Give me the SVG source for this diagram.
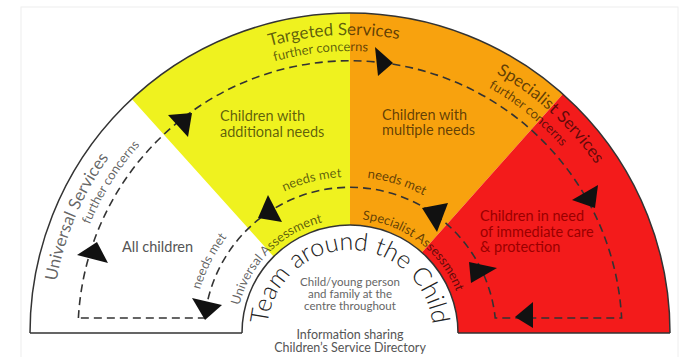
<svg xmlns="http://www.w3.org/2000/svg" xmlns:xlink="http://www.w3.org/1999/xlink" width="686" height="357" viewBox="0 0 686 357">
<style>
text{font-family:Lato,"Open Sans","Liberation Sans",sans-serif}
.big{font-size:17px}
.mid{font-size:13px}
.lbl{font-size:14.5px}
.sm{font-size:11.5px;fill:#666}
.info{font-size:12.5px;fill:#555}
.dk{fill:#000;fill-opacity:.62}
.gr{fill:#555}
.ah{fill:#111}
.dash{fill:none;stroke:#333;stroke-width:1.6;stroke-dasharray:8 5}
.edge{fill:none;stroke:#333;stroke-width:1.5}
</style>
<defs>
<path id="r298" d="M52,333 A298,298 0 0 1 648,333"/>
<path id="r282" d="M68,333 A282,282 0 0 1 632,333"/>
<path id="r156" d="M194,333 A156,156 0 0 1 506,333"/>
<path id="r114" d="M236,333 A114,114 0 0 1 464,333"/>
<path id="r83" d="M267,333 A83,83 0 0 1 433,333"/>
</defs>
<rect x="21" y="7" width="657" height="360" fill="#fff" stroke="#eeeeee" stroke-width="1"/>
<g id="universal">
<path d="M30,333 A320,320 0 0 1 131.8,99 L273.6,256.6 A108,108 0 0 0 242,333 Z" fill="#fff"/>
<text class="lbl gr" x="122" y="252">All children</text>
</g>
<g id="targeted">
<path d="M131.8,99 A320,320 0 0 1 350,13 L350,225 A108,108 0 0 0 273.6,256.6 Z" fill="#eff21f"/>
<text class="lbl dk" x="220" y="121">Children with</text>
<text class="lbl dk" x="220" y="137">additional needs</text>
</g>
<g id="multiple">
<path d="M350,13 A320,320 0 0 1 562.9,94.1 L421.8,252.4 A108,108 0 0 0 350,225 Z" fill="#f8a20e"/>
<text class="lbl dk" x="382" y="120">Children with</text>
<text class="lbl dk" x="382" y="135">multiple needs</text>
</g>
<g id="specialist">
<path d="M562.9,94.1 A320,320 0 0 1 670,333 L458,333 A108,108 0 0 0 421.8,252.4 Z" fill="#f31b1b"/>
<text class="lbl" fill="#9a0000" x="480" y="221">Children in need</text>
<text class="lbl" fill="#9a0000" x="480" y="237">of immediate care</text>
<text class="lbl" fill="#9a0000" x="480" y="252">&amp; protection</text>
</g>
<g id="outline">
<path class="edge" d="M30,333 A320,320 0 0 1 670,333"/>
<path class="edge" d="M30,333 H242 M458,333 H670"/>
<path class="edge" d="M242,333 A108,108 0 0 1 458,333"/>
</g>
<g id="service-labels">
<text class="big dk" text-anchor="middle"><textPath href="#r298" startOffset="12.8%">Universal Services</textPath></text>
<text class="big dk" text-anchor="middle"><textPath href="#r298" startOffset="48.3%">Targeted Services</textPath></text>
<text class="big dk" text-anchor="middle"><textPath href="#r298" startOffset="73.6%">Specialist Services</textPath></text>
<text class="mid dk" text-anchor="middle"><textPath href="#r282" startOffset="17.9%">further concerns</textPath></text>
<text class="mid dk" text-anchor="middle"><textPath href="#r282" startOffset="46.7%">further concerns</textPath></text>
<text class="mid dk" text-anchor="middle"><textPath href="#r282" startOffset="71.7%">further concerns</textPath></text>
<text class="mid dk" text-anchor="middle"><textPath href="#r156" startOffset="15%">needs met</textPath></text>
<text class="mid dk" text-anchor="middle"><textPath href="#r156" startOffset="42.2%">needs met</textPath></text>
<text class="mid dk" text-anchor="middle"><textPath href="#r156" startOffset="59.6%">needs met</textPath></text>
<text class="mid dk" text-anchor="middle"><textPath href="#r114" startOffset="25%">Universal Assessment</textPath></text>
<text class="mid dk" text-anchor="middle"><textPath href="#r114" startOffset="70.8%">Specialist Assessment</textPath></text>
</g>
<g id="connectors">
<path class="dash" d="M78.4,318 A272,272 0 0 1 621.6,318 H495.2 A146,146 0 0 0 204.8,318 Z"/>
<polygon class="ah" points="97,242 77,255 108,263"/>
<polygon class="ah" points="192,113 168,115 188,137"/>
<polygon class="ah" points="393,63 375,47 378,76"/>
<polygon class="ah" points="595,208 572,200 598,185"/>
<polygon class="ah" points="515,317 533,302 533,328"/>
<polygon class="ah" points="469,262 471,283 497,268"/>
<polygon class="ah" points="422,208 448,203 437,232"/>
<polygon class="ah" points="258,218 268,195 282,222"/>
<polygon class="ah" points="205,320 192,298 222,305"/>
</g>
<g id="hub">
<text style="font-size:25px;font-weight:300" fill="#222" text-anchor="middle"><textPath href="#r83" startOffset="50%">Team around the Child</textPath></text>
<text class="sm" text-anchor="middle" x="350" y="286">Child/young person</text>
<text class="sm" text-anchor="middle" x="350" y="298">and family at the</text>
<text class="sm" text-anchor="middle" x="350" y="310">centre throughout</text>
<text class="info" text-anchor="middle" x="350" y="339">Information sharing</text>
<text class="info" text-anchor="middle" x="350" y="352">Children’s Service Directory</text>
</g>
</svg>
